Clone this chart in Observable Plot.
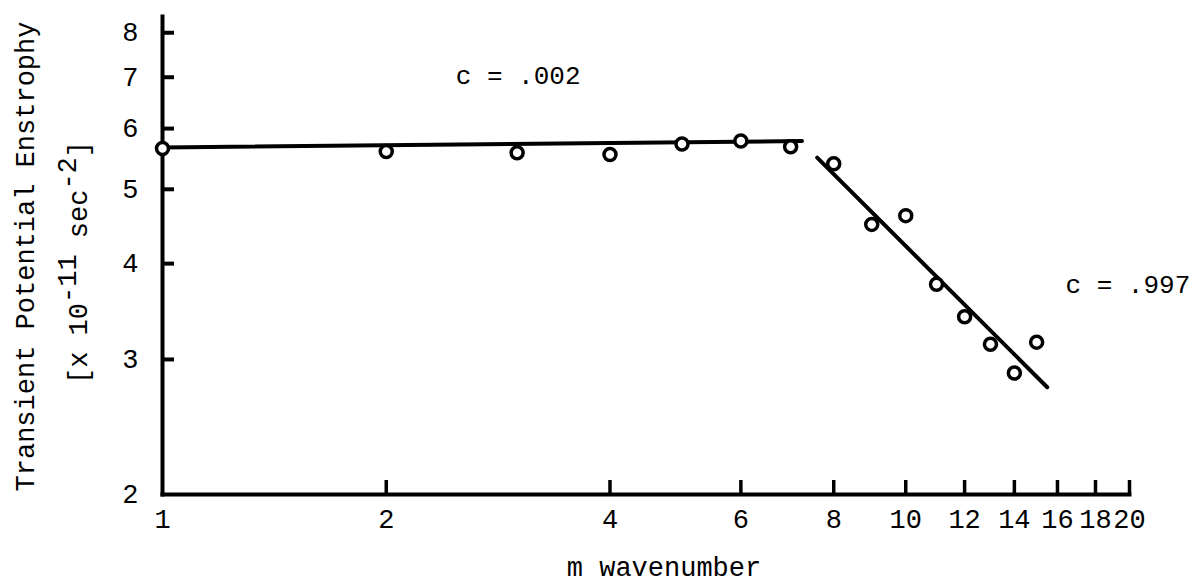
<!DOCTYPE html>
<html><head><meta charset="utf-8">
<script src="https://cdn.jsdelivr.net/npm/d3@7"></script>
<script src="https://cdn.jsdelivr.net/npm/@observablehq/plot@0.6"></script>
<style>body{margin:0;background:#fff}</style>
</head><body><div id="chart"></div>
<script>
const wavenumber = [1,2,3,4,5,6,7,8,9,10,11,12,13,14,15];
const enstrophy = [5.65,5.60,5.58,5.55,5.73,5.78,5.68,5.40,4.50,4.62,3.76,3.41,3.14,2.88,3.16];
const flatFitM = [1, 7.25];
const flatFitV = [5.67, 5.78];
const steepFitM = [7.6, 15.5];
const steepFitV = [5.50, 2.76];
const xTicks = [2,4,6,8,10,12,14,16,18,20];
const xTickLabels = [1,2,4,6,8,10,12,14,16,18,20];
const yTicks = [3,4,5,6,7,8];
const yTickLabels = [2,3,4,5,6,7,8];
const notes = ["c = .002", "c = .997"];
const noteM = [2.48, 16.4];
const noteV = [7.04, 3.75];
const yLabel1 = "Transient Potential Enstrophy";
const yLabel2 = "[x 10-11 sec-2]";
const xLabel = "m wavenumber";

const points = wavenumber.map((m, i) => ({m, v: enstrophy[i]}));
const flatFit = flatFitM.map((m, i) => ({m, v: flatFitV[i]}));
const steepFit = steepFitM.map((m, i) => ({m, v: steepFitV[i]}));

const chart = Plot.plot({
  width: 1196,
  height: 583,
  marginLeft: 162,
  marginRight: 67,
  marginTop: 16,
  marginBottom: 89,
  style: {fontFamily: "Liberation Mono, monospace", fontSize: "26px", color: "black", background: "white"},
  x: {type: "log", domain: [1, 20]},
  y: {type: "log", domain: [2, 8.4]},
  marks: [
    Plot.frame({anchor: "left", strokeWidth: 4}),
    Plot.frame({anchor: "bottom", strokeWidth: 4}),
    Plot.axisY({ticks: yTicks, tickSize: -12, strokeWidth: 4, tickFormat: () => "", label: null}),
    Plot.axisX({ticks: xTicks, tickSize: -14, strokeWidth: 3.5, tickFormat: () => "", label: null}),
    Plot.axisY({ticks: yTickLabels, tickSize: 0, tickPadding: 24, tickFormat: d => String(d), label: null, fontSize: 27}),
    Plot.axisX({ticks: xTickLabels, tickSize: 0, tickPadding: 14, tickFormat: d => String(d), label: null, fontSize: 27}),
    Plot.line(flatFit, {x: "m", y: "v", stroke: "black", strokeWidth: 4}),
    Plot.line(steepFit, {x: "m", y: "v", stroke: "black", strokeWidth: 4}),
    Plot.dot(points, {x: "m", y: "v", r: 6, stroke: "black", strokeWidth: 3.5, fill: "white"}),
    Plot.text(notes, {x: (d, i) => noteM[i], y: (d, i) => noteV[i], text: d => d, textAnchor: "start", fontSize: 26}),
    Plot.text([yLabel1], {frameAnchor: "left", text: d => d, rotate: -90, textAnchor: "middle", lineAnchor: "middle", dx: -137, dy: 1, fontSize: 27}),
    Plot.text([yLabel2], {frameAnchor: "left", text: d => d, rotate: -90, textAnchor: "middle", lineAnchor: "middle", dx: -84, dy: 7, fontSize: 27}),
    Plot.text([xLabel], {frameAnchor: "bottom", text: d => d, textAnchor: "middle", lineAnchor: "middle", dx: 18, dy: 73, fontSize: 27})
  ]
});
document.getElementById("chart").appendChild(chart);

// raise the exponents in the second y-label line
d3.select(chart).selectAll("text").each(function() {
  if (this.textContent === yLabel2) {
    const t = d3.select(this);
    t.text(null);
    t.append("tspan").text("[x 10");
    t.append("tspan").attr("dy", "-0.4em").text("-11");
    t.append("tspan").attr("dy", "0.4em").text("\u00a0sec");
    t.append("tspan").attr("dy", "-0.4em").text("-2");
    t.append("tspan").attr("dy", "0.4em").text("]");
  }
});
</script>
</body></html>
